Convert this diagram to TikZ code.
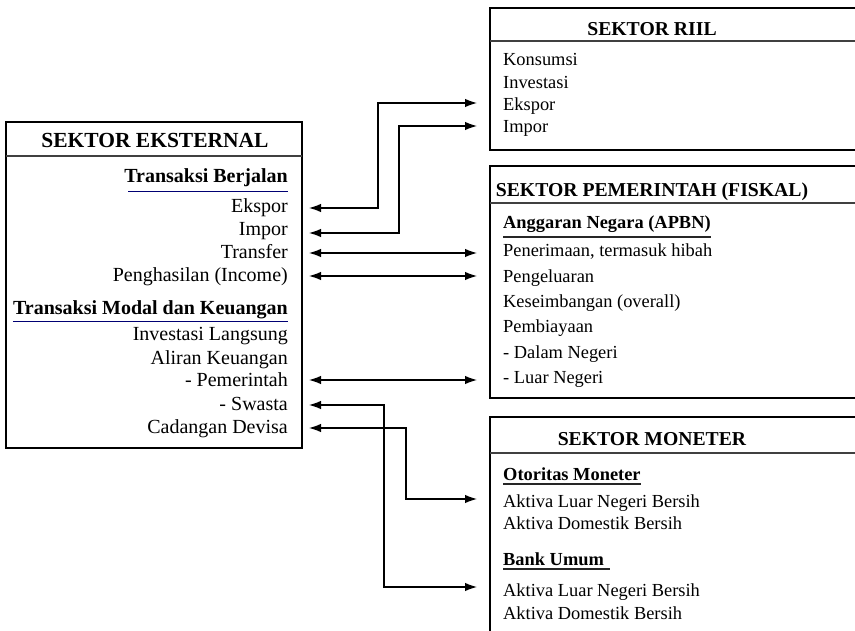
\documentclass[tikz,border=0pt]{standalone}
\usepackage{fontspec}
\setmainfont{Liberation Serif}
\usetikzlibrary{arrows.meta}

\tikzset{
  boxline/.style={line width=2.6pt},
  sepline/.style={line width=1.1pt, draw=black!75},
  ltxt/.style={anchor=base east, inner sep=0pt, font=\fontsize{20}{24}\selectfont},
  lhead/.style={ltxt, font=\fontsize{20}{24}\selectfont\bfseries},
  ltitle/.style={anchor=base, inner sep=0pt, font=\fontsize{21.5}{26}\selectfont\bfseries},
  rtxt/.style={anchor=base west, inner sep=0pt, font=\fontsize{18.4}{22}\selectfont},
  rhead/.style={rtxt, font=\fontsize{18.4}{22}\selectfont\bfseries},
  rtitle/.style={anchor=base, inner sep=0pt, font=\fontsize{19.7}{24}\selectfont\bfseries},
  lul/.style={line width=0.9pt, draw=blue!45!black},
  rul/.style={line width=1.3pt, draw=black!85},
  link/.style={line width=1.2pt, {Latex[length=12pt,width=8.5pt]}-{Latex[length=12pt,width=8.5pt]}}
}

\begin{document}
\begin{tikzpicture}[x=1pt, y=-1pt]
  \useasboundingbox (0,0) rectangle (855,631);
  \clip (0,0) rectangle (855,631);

  % boxes
  \draw[boxline] (6,122) rectangle (302,448);
  \draw[sepline] (6,156) -- (302,156);
  \draw[boxline] (490,8) rectangle (900,150);
  \draw[sepline] (490,41) -- (900,41);
  \draw[boxline] (490,166) rectangle (900,398);
  \draw[sepline] (490,203) -- (900,203);
  \draw[boxline] (490,417) rectangle (900,700);
  \draw[sepline] (490,453) -- (900,453);

  % sektor eksternal
  \node[ltitle] (ext) at (155,148) {SEKTOR EKSTERNAL};
  \node[lhead] (berjalan) at (288,183) {Transaksi Berjalan};
  \node[ltxt] (eksE) at (288,213) {Ekspor};
  \node[ltxt] (impE) at (288,236) {Impor};
  \node[ltxt] (trf) at (288,259) {Transfer};
  \node[ltxt] (inc) at (288,282) {Penghasilan (Income)};
  \node[lhead] (modal) at (288,315) {Transaksi Modal dan Keuangan};
  \node[ltxt] (fdi) at (288,341) {Investasi Langsung};
  \node[ltxt] (aliran) at (288,364) {Aliran Keuangan};
  \node[ltxt] (pemE) at (288,387) {- Pemerintah};
  \node[ltxt] (swa) at (288,410) {- Swasta};
  \node[ltxt] (cad) at (288,433) {Cadangan Devisa};
  \draw[lul] ([xshift=4pt,yshift=-8pt]berjalan.base west) -- ([yshift=-8pt]berjalan.base east);
  \draw[lul] ([yshift=-6pt]modal.base west) -- ([yshift=-6pt]modal.base east);

  % sektor riil
  \node[rtitle] (riil) at (652,36) {SEKTOR RIIL};
  \node[rtxt] (kons) at (503,66) {Konsumsi};
  \node[rtxt] (inv) at (503,89) {Investasi};
  \node[rtxt] (eksR) at (503,111) {Ekspor};
  \node[rtxt] (impR) at (503,133) {Impor};

  % sektor pemerintah
  \node[rtitle] (fiskal) at (652,197) {SEKTOR PEMERINTAH (FISKAL)};
  \node[rhead] (apbn) at (503,229) {Anggaran Negara (APBN)};
  \node[rtxt] (terima) at (503,257) {Penerimaan, termasuk hibah};
  \node[rtxt] (keluar) at (503,283) {Pengeluaran};
  \node[rtxt] (imbang) at (503,308) {Keseimbangan (overall)};
  \node[rtxt] (biaya) at (503,333) {Pembiayaan};
  \node[rtxt] (dn) at (503,359) {- Dalam Negeri};
  \node[rtxt] (ln) at (503,384) {- Luar Negeri};
  \draw[rul] ([yshift=-8pt]apbn.base west) -- ([yshift=-8pt]apbn.base east);

  % sektor moneter
  \node[rtitle] (mon) at (652,445) {SEKTOR MONETER};
  \node[rhead] (oto) at (503,480) {Otoritas Moneter};
  \node[rtxt] (alnOto) at (503,507) {Aktiva Luar Negeri Bersih};
  \node[rtxt] (adbOto) at (503,529) {Aktiva Domestik Bersih};
  \node[rhead] (bank) at (503,565) {Bank Umum};
  \node[rtxt] (alnBank) at (503,596) {Aktiva Luar Negeri Bersih};
  \node[rtxt] (adbBank) at (503,619) {Aktiva Domestik Bersih};
  \draw[rul] ([yshift=-4pt]oto.base west) -- ([yshift=-4pt]oto.base east);
  \draw[rul] ([yshift=-4pt]bank.base west) -- ([xshift=6pt,yshift=-4pt]bank.base east);

  % arrow ends
  \coordinate (aEks) at (309,208);
  \coordinate (aImp) at (309,233);
  \coordinate (aTrf) at (309,253);
  \coordinate (aInc) at (309,276);
  \coordinate (aPem) at (309,380);
  \coordinate (aSwa) at (309,405);
  \coordinate (aCad) at (309,428);
  \coordinate (bEks) at (477,103);
  \coordinate (bImp) at (477,126);
  \coordinate (bTerima) at (477,253);
  \coordinate (bKeluar) at (477,276);
  \coordinate (bLn) at (477,380);
  \coordinate (bOto) at (477,499);
  \coordinate (bBank) at (477,587);

  \draw[link] (aEks) -- ++(69,0) |- (bEks);
  \draw[link] (aImp) -- ++(90,0) |- (bImp);
  \draw[link] (aTrf) -- (bTerima);
  \draw[link] (aInc) -- (bKeluar);
  \draw[link] (aPem) -- (bLn);
  \draw[link] (aSwa) -- ++(75,0) |- (bBank);
  \draw[link] (aCad) -- ++(97,0) |- (bOto);
\end{tikzpicture}
\end{document}
